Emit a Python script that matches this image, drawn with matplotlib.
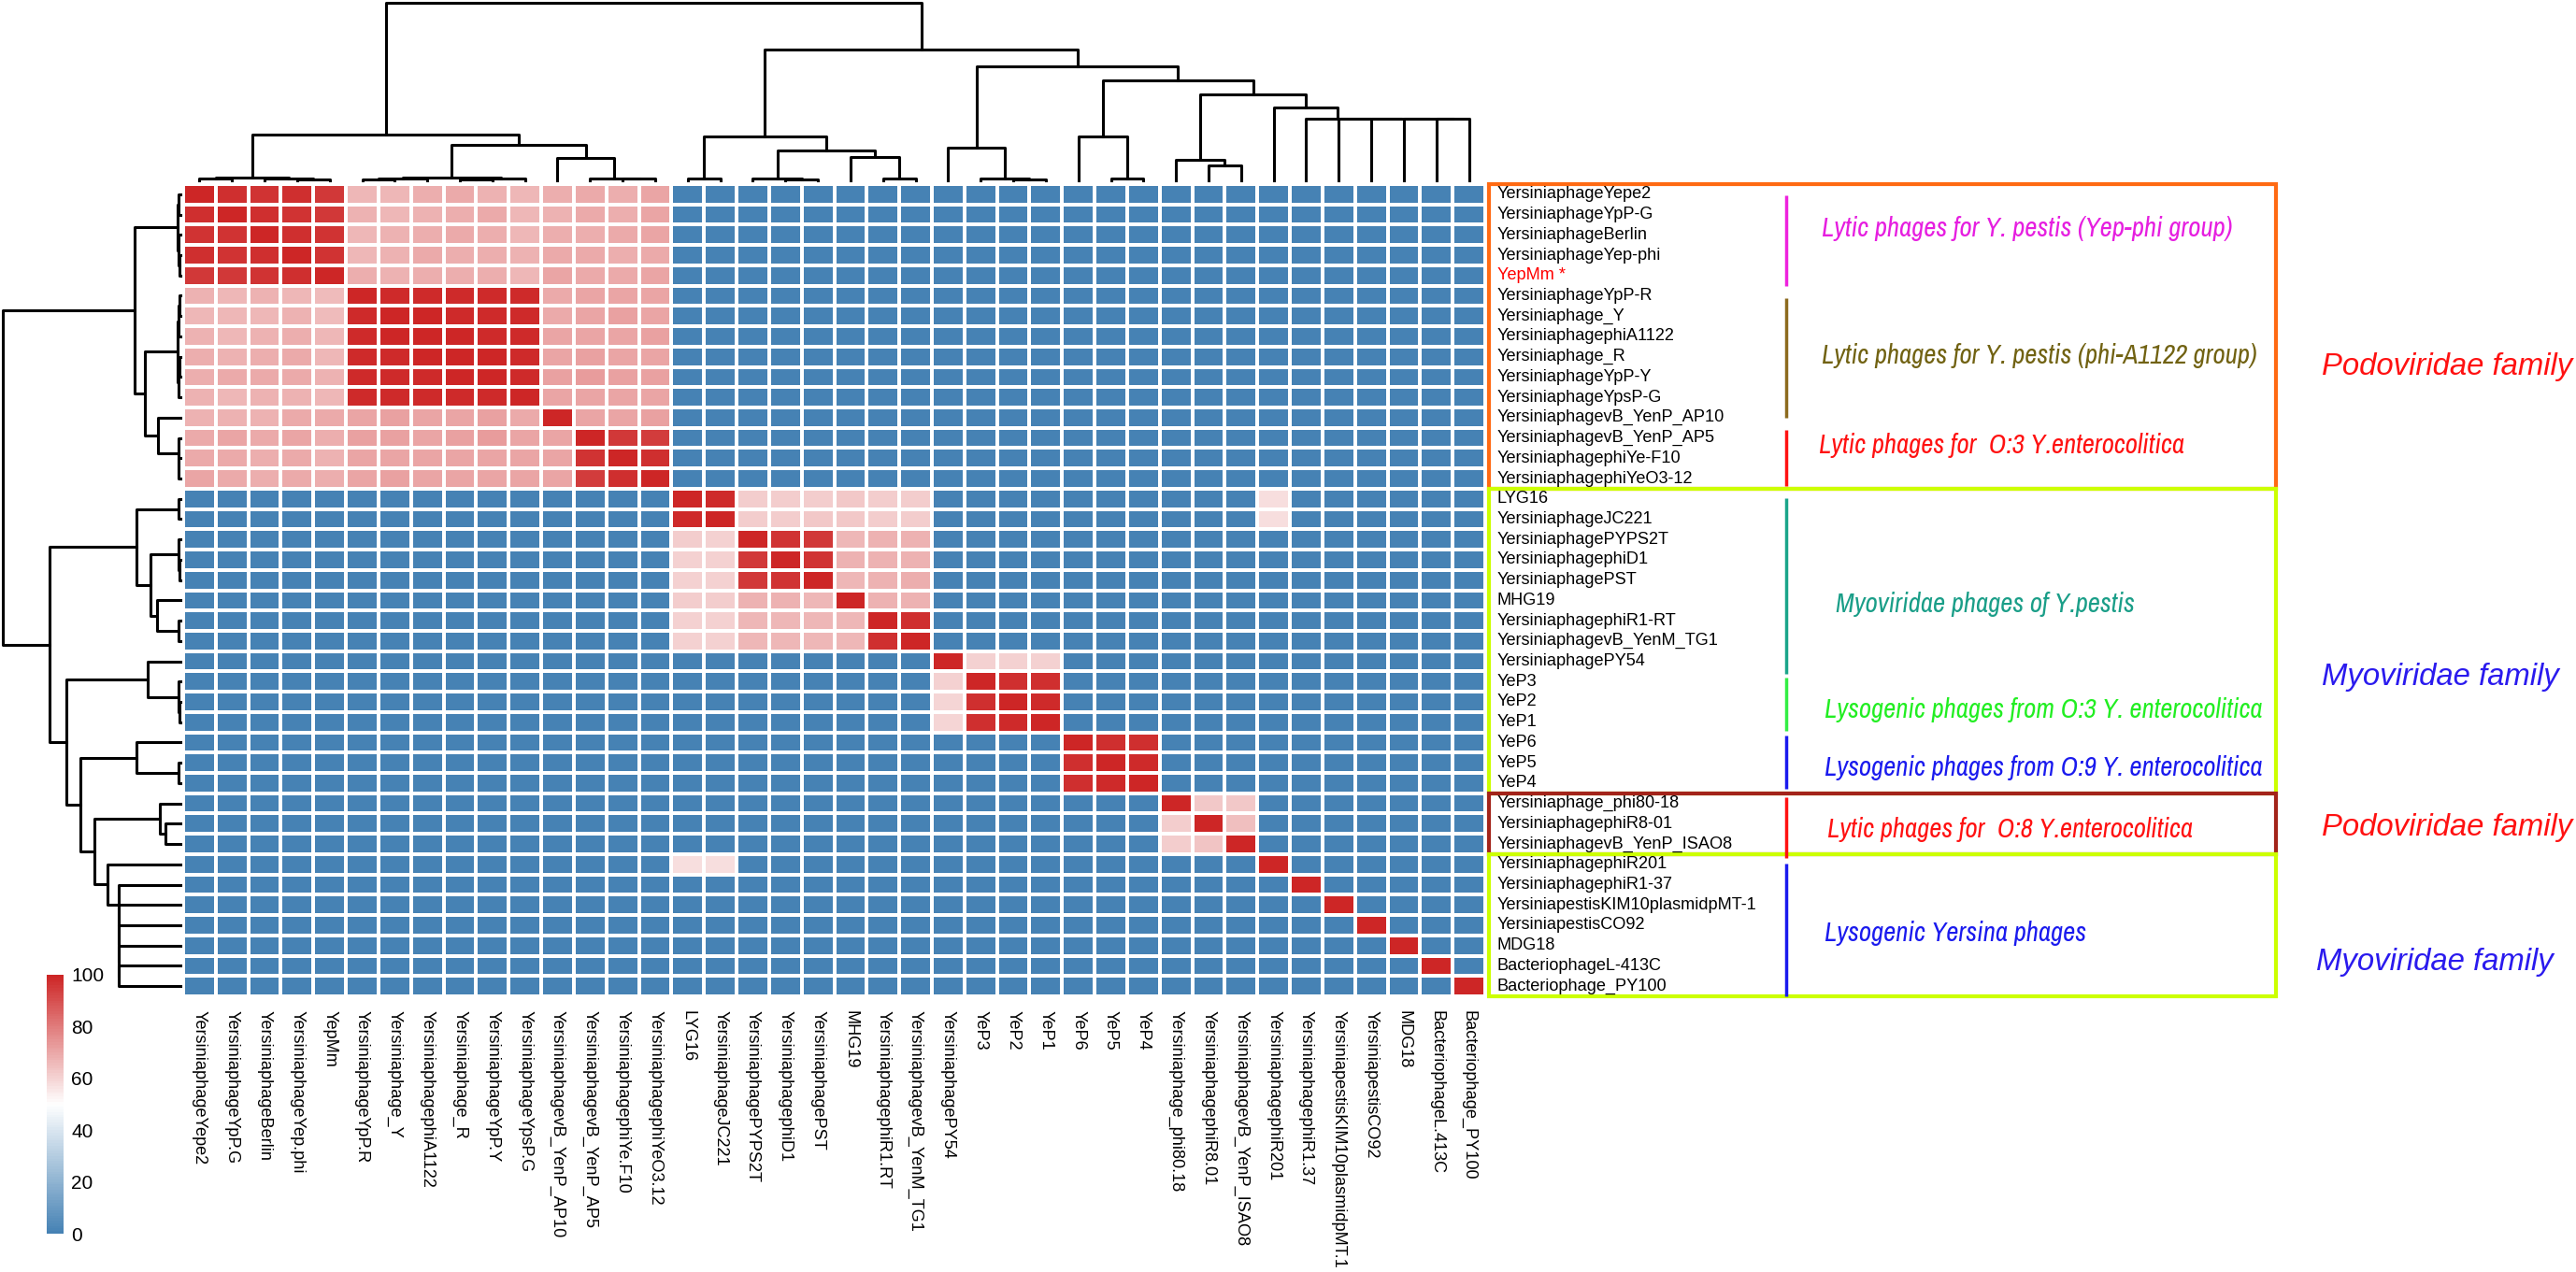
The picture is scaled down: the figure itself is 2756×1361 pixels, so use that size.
import numpy as np
import matplotlib
matplotlib.use("Agg")
from matplotlib import pyplot as plt
from matplotlib.colors import LinearSegmentedColormap
from matplotlib.patches import Rectangle

plt.rcParams['font.family'] = ['Liberation Sans', 'DejaVu Sans']

# row / column names (same order, columns use "." instead of "-")
row_names = ["YersiniaphageYepe2", "YersiniaphageYpP-G", "YersiniaphageBerlin", "YersiniaphageYep-phi",
             "YepMm *", "YersiniaphageYpP-R", "Yersiniaphage_Y", "YersiniaphagephiA1122", "Yersiniaphage_R",
             "YersiniaphageYpP-Y", "YersiniaphageYpsP-G", "YersiniaphagevB_YenP_AP10", "YersiniaphagevB_YenP_AP5",
             "YersiniaphagephiYe-F10", "YersiniaphagephiYeO3-12", "LYG16", "YersiniaphageJC221",
             "YersiniaphagePYPS2T", "YersiniaphagephiD1", "YersiniaphagePST", "MHG19", "YersiniaphagephiR1-RT",
             "YersiniaphagevB_YenM_TG1", "YersiniaphagePY54", "YeP3", "YeP2", "YeP1", "YeP6", "YeP5", "YeP4",
             "Yersiniaphage_phi80-18", "YersiniaphagephiR8-01", "YersiniaphagevB_YenP_ISAO8",
             "YersiniaphagephiR201", "YersiniaphagephiR1-37", "YersiniapestisKIM10plasmidpMT-1",
             "YersiniapestisCO92", "MDG18", "BacteriophageL-413C", "Bacteriophage_PY100"]

col_names = ["YersiniaphageYepe2", "YersiniaphageYpP.G", "YersiniaphageBerlin", "YersiniaphageYep.phi",
             "YepMm", "YersiniaphageYpP.R", "Yersiniaphage_Y", "YersiniaphagephiA1122", "Yersiniaphage_R",
             "YersiniaphageYpP.Y", "YersiniaphageYpsP.G", "YersiniaphagevB_YenP_AP10", "YersiniaphagevB_YenP_AP5",
             "YersiniaphagephiYe.F10", "YersiniaphagephiYeO3.12", "LYG16", "YersiniaphageJC221",
             "YersiniaphagePYPS2T", "YersiniaphagephiD1", "YersiniaphagePST", "MHG19", "YersiniaphagephiR1.RT",
             "YersiniaphagevB_YenM_TG1", "YersiniaphagePY54", "YeP3", "YeP2", "YeP1", "YeP6", "YeP5", "YeP4",
             "Yersiniaphage_phi80.18", "YersiniaphagephiR8.01", "YersiniaphagevB_YenP_ISAO8",
             "YersiniaphagephiR201", "YersiniaphagephiR1.37", "YersiniapestisKIM10plasmidpMT.1",
             "YersiniapestisCO92", "MDG18", "BacteriophageL.413C", "Bacteriophage_PY100"]

# similarity values (%)
sim = [
 [100,97,96,97,95,66,66,68,69,67,66,68,69,68,70,0,0,0,0,0,0,0,0,0,0,0,0,0,0,0,0,0,0,0,0,0,0,0,0,0],
 [97,100,97,96,95,67,66,67,68,69,66,67,69,68,70,0,0,0,0,0,0,0,0,0,0,0,0,0,0,0,0,0,0,0,0,0,0,0,0,0],
 [96,96,100,97,96,66,67,68,69,68,66,68,68,69,70,0,0,0,0,0,0,0,0,0,0,0,0,0,0,0,0,0,0,0,0,0,0,0,0,0],
 [97,96,97,100,96,66,67,69,68,68,67,69,69,68,69,0,0,0,0,0,0,0,0,0,0,0,0,0,0,0,0,0,0,0,0,0,0,0,0,0],
 [95,95,96,97,100,68,67,68,68,68,66,70,69,69,70,0,0,0,0,0,0,0,0,0,0,0,0,0,0,0,0,0,0,0,0,0,0,0,0,0],
 [67,66,67,66,65,100,98,98,98,98,98,69,70,70,70,0,0,0,0,0,0,0,0,0,0,0,0,0,0,0,0,0,0,0,0,0,0,0,0,0],
 [66,66,66,67,65,98,100,99,98,98,98,69,70,71,70,0,0,0,0,0,0,0,0,0,0,0,0,0,0,0,0,0,0,0,0,0,0,0,0,0],
 [67,66,67,68,66,98,99,100,99,98,98,70,70,70,71,0,0,0,0,0,0,0,0,0,0,0,0,0,0,0,0,0,0,0,0,0,0,0,0,0],
 [68,67,68,69,66,98,98,99,100,99,98,70,71,70,70,0,0,0,0,0,0,0,0,0,0,0,0,0,0,0,0,0,0,0,0,0,0,0,0,0],
 [68,69,69,69,67,98,98,98,99,100,98,71,72,71,71,0,0,0,0,0,0,0,0,0,0,0,0,0,0,0,0,0,0,0,0,0,0,0,0,0],
 [67,66,67,67,66,98,98,98,98,98,100,70,70,70,70,0,0,0,0,0,0,0,0,0,0,0,0,0,0,0,0,0,0,0,0,0,0,0,0,0],
 [67,67,67,69,69,70,71,70,70,71,69,100,70,70,71,0,0,0,0,0,0,0,0,0,0,0,0,0,0,0,0,0,0,0,0,0,0,0,0,0],
 [69,70,69,70,68,71,71,70,71,72,70,70,100,95,94,0,0,0,0,0,0,0,0,0,0,0,0,0,0,0,0,0,0,0,0,0,0,0,0,0],
 [69,69,68,69,67,70,70,70,70,70,70,70,96,100,97,0,0,0,0,0,0,0,0,0,0,0,0,0,0,0,0,0,0,0,0,0,0,0,0,0],
 [70,69,68,69,68,70,71,70,70,70,70,70,94,97,100,0,0,0,0,0,0,0,0,0,0,0,0,0,0,0,0,0,0,0,0,0,0,0,0,0],
 [0,0,0,0,0,0,0,0,0,0,0,0,0,0,0,100,98,61,61,61,62,61,61,0,0,0,0,0,0,0,0,0,0,58,0,0,0,0,0,0],
 [0,0,0,0,0,0,0,0,0,0,0,0,0,0,0,98,100,61,61,62,62,61,61,0,0,0,0,0,0,0,0,0,0,58,0,0,0,0,0,0],
 [0,0,0,0,0,0,0,0,0,0,0,0,0,0,0,61,60,100,96,95,66,67,67,0,0,0,0,0,0,0,0,0,0,0,0,0,0,0,0,0],
 [0,0,0,0,0,0,0,0,0,0,0,0,0,0,0,60,60,95,100,96,67,67,67,0,0,0,0,0,0,0,0,0,0,0,0,0,0,0,0,0],
 [0,0,0,0,0,0,0,0,0,0,0,0,0,0,0,60,60,95,96,100,66,67,68,0,0,0,0,0,0,0,0,0,0,0,0,0,0,0,0,0],
 [0,0,0,0,0,0,0,0,0,0,0,0,0,0,0,61,61,67,67,66,100,67,67,0,0,0,0,0,0,0,0,0,0,0,0,0,0,0,0,0],
 [0,0,0,0,0,0,0,0,0,0,0,0,0,0,0,60,60,66,66,66,66,100,97,0,0,0,0,0,0,0,0,0,0,0,0,0,0,0,0,0],
 [0,0,0,0,0,0,0,0,0,0,0,0,0,0,0,60,60,66,66,66,66,97,100,0,0,0,0,0,0,0,0,0,0,0,0,0,0,0,0,0],
 [0,0,0,0,0,0,0,0,0,0,0,0,0,0,0,0,0,0,0,0,0,0,0,100,60,60,60,0,0,0,0,0,0,0,0,0,0,0,0,0],
 [0,0,0,0,0,0,0,0,0,0,0,0,0,0,0,0,0,0,0,0,0,0,0,60,100,97,97,0,0,0,0,0,0,0,0,0,0,0,0,0],
 [0,0,0,0,0,0,0,0,0,0,0,0,0,0,0,0,0,0,0,0,0,0,0,59,97,100,98,0,0,0,0,0,0,0,0,0,0,0,0,0],
 [0,0,0,0,0,0,0,0,0,0,0,0,0,0,0,0,0,0,0,0,0,0,0,59,97,98,100,0,0,0,0,0,0,0,0,0,0,0,0,0],
 [0,0,0,0,0,0,0,0,0,0,0,0,0,0,0,0,0,0,0,0,0,0,0,0,0,0,0,100,97,97,0,0,0,0,0,0,0,0,0,0],
 [0,0,0,0,0,0,0,0,0,0,0,0,0,0,0,0,0,0,0,0,0,0,0,0,0,0,0,97,100,98,0,0,0,0,0,0,0,0,0,0],
 [0,0,0,0,0,0,0,0,0,0,0,0,0,0,0,0,0,0,0,0,0,0,0,0,0,0,0,97,98,100,0,0,0,0,0,0,0,0,0,0],
 [0,0,0,0,0,0,0,0,0,0,0,0,0,0,0,0,0,0,0,0,0,0,0,0,0,0,0,0,0,0,100,62,62,0,0,0,0,0,0,0],
 [0,0,0,0,0,0,0,0,0,0,0,0,0,0,0,0,0,0,0,0,0,0,0,0,0,0,0,0,0,0,61,100,64,0,0,0,0,0,0,0],
 [0,0,0,0,0,0,0,0,0,0,0,0,0,0,0,0,0,0,0,0,0,0,0,0,0,0,0,0,0,0,61,63,100,0,0,0,0,0,0,0],
 [0,0,0,0,0,0,0,0,0,0,0,0,0,0,0,58,58,0,0,0,0,0,0,0,0,0,0,0,0,0,0,0,0,100,0,0,0,0,0,0],
 [0,0,0,0,0,0,0,0,0,0,0,0,0,0,0,0,0,0,0,0,0,0,0,0,0,0,0,0,0,0,0,0,0,0,100,0,0,0,0,0],
 [0,0,0,0,0,0,0,0,0,0,0,0,0,0,0,0,0,0,0,0,0,0,0,0,0,0,0,0,0,0,0,0,0,0,0,100,0,0,0,0],
 [0,0,0,0,0,0,0,0,0,0,0,0,0,0,0,0,0,0,0,0,0,0,0,0,0,0,0,0,0,0,0,0,0,0,0,0,100,0,0,0],
 [0,0,0,0,0,0,0,0,0,0,0,0,0,0,0,0,0,0,0,0,0,0,0,0,0,0,0,0,0,0,0,0,0,0,0,0,0,100,0,0],
 [0,0,0,0,0,0,0,0,0,0,0,0,0,0,0,0,0,0,0,0,0,0,0,0,0,0,0,0,0,0,0,0,0,0,0,0,0,0,100,0],
 [0,0,0,0,0,0,0,0,0,0,0,0,0,0,0,0,0,0,0,0,0,0,0,0,0,0,0,0,0,0,0,0,0,0,0,0,0,0,0,100],
]

# clustering tree (same for rows and columns): (child a, child b, height)
# ids < 40 are leaves, id 40+k is the k-th merge
merges = [
 (0, 1, 0.8), (3, 4, 0.6), (2, 41, 1.0), (40, 42, 1.4),
 (5, 6, 0.6), (44, 7, 1.0), (8, 9, 0.7), (46, 10, 1.1), (45, 47, 1.5),
 (13, 14, 0.8), (12, 49, 1.3), (11, 50, 12.6), (48, 51, 20.2), (43, 52, 25.7),
 (15, 16, 0.8), (18, 19, 0.7), (17, 55, 1.2), (21, 22, 1.0), (20, 57, 12.9),
 (56, 58, 16.8), (54, 59, 25.0),
 (25, 26, 0.7), (24, 61, 1.2), (23, 62, 18.6),
 (28, 29, 1.0), (27, 64, 24.6),
 (31, 32, 8.2), (30, 66, 11.8),
 (38, 39, 35.0), (37, 68, 35.0), (36, 69, 35.0), (35, 70, 35.0), (34, 71, 35.0),
 (33, 72, 41.2), (67, 73, 48.5), (65, 74, 56.4), (63, 75, 64.3), (60, 76, 73.5), (53, 77, 100.0),
]

# annotation groups on the right
group_labels = ["Lytic phages for Y. pestis (Yep-phi group)",
                "Lytic phages for Y. pestis (phi-A1122 group)",
                "Lytic phages for  O:3 Y.enterocolitica",
                "Myoviridae phages of Y.pestis",
                "Lysogenic phages from O:3 Y. enterocolitica",
                "Lysogenic phages from O:9 Y. enterocolitica",
                "Lytic phages for  O:8 Y.enterocolitica",
                "Lysogenic Yersina phages"]
group_line_colors = ["#EE22DD", "#8C6A1E", "#FF1111", "#1AA58A", "#33EE44", "#1A1AEE", "#FF1111", "#1A1AEE"]
group_text_colors = ["#E61EE0", "#716212", "#FF1111", "#1A9E88", "#22EE22", "#1A1AEE", "#FF1111", "#1A1AEE"]
group_spans = [(0.55, 5.0), (5.6, 11.5), (12.1, 14.85), (15.45, 24.1),
               (24.3, 26.95), (27.15, 29.8), (30.2, 33.2), (33.45, 40.0)]
group_text_rows = [2.17, 8.43, 12.86, 20.69, 25.9, 28.76, 31.8, 36.87]
group_text_x = [50.34, 50.34, 50.26, 50.78, 50.43, 50.43, 50.52, 50.43]

box_spans = [(0, 15), (15, 30), (30, 33), (33, 40)]
box_colors = ["#FF6A13", "#CCFF00", "#A3241A", "#CCFF00"]

family_labels = ["Podoviridae family", "Myoviridae family", "Podoviridae family", "Myoviridae family"]
family_colors = ["#FF1111", "#2A1AEE", "#FF1111", "#2A1AEE"]
family_rows = [8.99, 24.3, 31.7, 38.3]
family_x = [65.69, 65.69, 65.69, 65.52]


def dendro_segments(merges, n):
    # U-shaped links, leaves at i + 0.5, parents centred over their children
    pos = {i: i + 0.5 for i in range(n)}
    hgt = {i: 0.0 for i in range(n)}
    segs = []
    for k, (a, b, h) in enumerate(merges):
        segs.append(([pos[a], pos[a], pos[b], pos[b]], [hgt[a], h, h, hgt[b]]))
        pos[n + k] = (pos[a] + pos[b]) / 2
        hgt[n + k] = h
    return segs


values = np.array(sim, dtype=float)
n = len(row_names)
W, H = 2756, 1361

fig = plt.figure(figsize=(W / 100, H / 100), dpi=100)

cmap = LinearSegmentedColormap.from_list("bwr_ph", ["#4682B4", "#FFFFFF", "#CD2626"], N=100)

# heatmap
ax = fig.add_axes([196 / W, 1 - 1066 / H, (1589 - 196) / W, (1066 - 197) / H])
mesh = ax.pcolormesh(values, cmap=cmap, vmin=0, vmax=100, edgecolors="white", linewidth=1.6)
ax.set_xlim(0, n)
ax.set_ylim(n, 0)
ax.axis("off")

for i, name in enumerate(row_names):
    ax.text(40.37, i + 0.5, name, va="center", ha="left", fontsize=13.1,
            color="#FF0000" if name.startswith("YepMm") else "black")
for j, name in enumerate(col_names):
    ax.text(j + 0.5, 40.7, name, rotation=270, ha="center", va="top", fontsize=13.1)

# boxes around groups
for (r0, r1), c in zip(box_spans, box_colors):
    ax.add_patch(Rectangle((40.12, r0), 64.3 - 40.12, r1 - r0, fill=False,
                           edgecolor=c, linewidth=3, clip_on=False))

# group bars and notes (narrow italic)
ann_family = ["Archivo Narrow", "Liberation Sans", "DejaVu Sans"]
for lab, lc, tc, (s0, s1), ty, tx in zip(group_labels, group_line_colors, group_text_colors,
                                         group_spans, group_text_rows, group_text_x):
    ax.plot([49.25, 49.25], [s0, s1], color=lc, linewidth=2.5, clip_on=False, solid_capstyle="butt")
    ax.text(tx, ty, lab, color=tc, fontsize=20.8, family=ann_family, style="italic",
            va="center", ha="left")

for lab, c, r, x in zip(family_labels, family_colors, family_rows, family_x):
    ax.text(x, r, lab, color=c, fontsize=23.7, style="italic", va="center", ha="left")

# dendrograms
segs = dendro_segments(merges, n)

axt = fig.add_axes([196 / W, 1 - 193 / H, (1589 - 196) / W, 190 / H])
for xs, ys in segs:
    axt.plot(xs, ys, color="black", linewidth=2.2, clip_on=False, solid_capstyle="projecting")
axt.set_xlim(0, n)
axt.set_ylim(0, 100)
axt.axis("off")

axl = fig.add_axes([3 / W, 1 - 1066 / H, 190 / W, (1066 - 197) / H])
for xs, ys in segs:
    axl.plot(ys, xs, color="black", linewidth=2.2, clip_on=False, solid_capstyle="projecting")
axl.set_xlim(100, 0)
axl.set_ylim(n, 0)
axl.axis("off")

# colour key
cax = fig.add_axes([50 / W, 1 - 1320 / H, 18 / W, (1320 - 1043) / H])
cb = fig.colorbar(mesh, cax=cax, ticks=[0, 20, 40, 60, 80, 100])
cb.outline.set_visible(False)
cb.ax.tick_params(length=0, labelsize=15, pad=6)

fig.savefig("out.png", dpi=100)
